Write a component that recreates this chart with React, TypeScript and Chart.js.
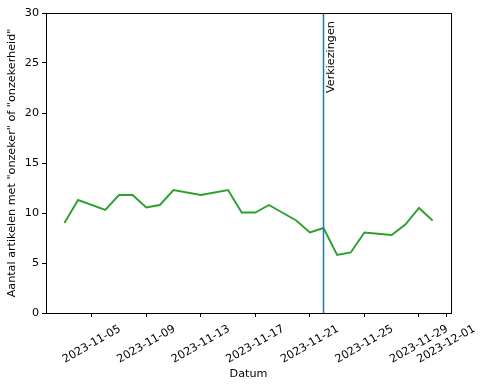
import React, { useEffect, useRef } from 'react';
import { Chart, registerables } from 'chart.js';

Chart.register(...registerables);

// Day of November 2023 for each observation
const days = [3, 4, 6, 7, 8, 9, 10, 11, 13, 15, 16, 17, 18, 20, 21, 22, 23, 24, 25, 27, 28, 29, 30];
// Aantal artikelen met "onzeker" of "onzekerheid"
const counts = [9.0, 11.3, 10.3, 11.8, 11.8, 10.55, 10.8, 12.3, 11.8, 12.3, 10.05, 10.05, 10.8, 9.25, 8.05, 8.5, 5.8, 6.05, 8.05, 7.8, 8.85, 10.5, 9.25];

const tickDays = [5, 9, 13, 17, 21, 25, 29, 31];
const tickLabels = ['2023-11-05', '2023-11-09', '2023-11-13', '2023-11-17', '2023-11-21', '2023-11-25', '2023-11-29', '2023-12-01'];

const electionDay = 22;
const electionLabel = 'Verkiezingen';
const electionLabelY = 22;

const xMin = 1.65;
const xMax = 31.35;
const yMin = 0;
const yMax = 30;
const yStep = 5;

const FONT = '"DejaVu Sans", sans-serif';
const FS = 11.2;

export default function App() {
  const ref = useRef<HTMLCanvasElement | null>(null);

  useEffect(() => {
    document.body.style.margin = '0';
    const canvas = ref.current;
    if (!canvas) return;

    const overlay = {
      id: 'overlay',
      afterDatasetsDraw(chart: any) {
        const { ctx, chartArea, scales } = chart;
        const xs = scales.x;
        const ys = scales.y;
        const px = xs.getPixelForValue(electionDay);
        ctx.save();
        ctx.strokeStyle = '#1f77b4';
        ctx.lineWidth = 1.5;
        ctx.beginPath();
        ctx.moveTo(px, chartArea.top);
        ctx.lineTo(px, chartArea.bottom);
        ctx.stroke();

        ctx.fillStyle = '#000';
        ctx.font = FS + 'px ' + FONT;
        ctx.translate(px + 1.5, ys.getPixelForValue(electionLabelY));
        ctx.rotate(-Math.PI / 2);
        ctx.textAlign = 'left';
        ctx.textBaseline = 'top';
        ctx.fillText(electionLabel, 0, 0);
        ctx.restore();
      },
      afterDraw(chart: any) {
        const { ctx, chartArea, scales } = chart;
        const xs = scales.x;
        ctx.save();
        ctx.strokeStyle = '#000';
        ctx.lineWidth = 1;
        ctx.strokeRect(
          Math.round(chartArea.left) + 0.5,
          Math.round(chartArea.top) + 0.5,
          Math.round(chartArea.right) - Math.round(chartArea.left),
          Math.round(chartArea.bottom) - Math.round(chartArea.top)
        );
        ctx.fillStyle = '#000';
        ctx.font = FS + 'px ' + FONT;
        ctx.textAlign = 'center';
        ctx.textBaseline = 'middle';
        const ang = (30 * Math.PI) / 180;
        tickDays.forEach((d, i) => {
          const label = tickLabels[i];
          const w = ctx.measureText(label).width;
          const h = FS * 1.15;
          const H = w * Math.sin(ang) + h * Math.cos(ang);
          const cx = xs.getPixelForValue(d);
          const cy = chartArea.bottom + 9.5 + H / 2;
          ctx.save();
          ctx.translate(cx, cy);
          ctx.rotate(-ang);
          ctx.fillText(label, 0, 0);
          ctx.restore();
        });
        ctx.restore();
      },
    };

    const chart = new Chart(canvas, {
      type: 'line',
      data: {
        datasets: [
          {
            data: days.map((d, i) => ({ x: d, y: counts[i] })),
            borderColor: '#2ca02c',
            backgroundColor: '#2ca02c',
            borderWidth: 1.9,
            pointRadius: 0,
            tension: 0,
            fill: false,
          },
        ],
      },
      options: {
        animation: false,
        responsive: false,
        maintainAspectRatio: false,
        layout: { padding: { top: 13, right: 34, left: 0, bottom: 0 } },
        plugins: {
          legend: { display: false },
          tooltip: { enabled: false },
        },
        scales: {
          x: {
            type: 'linear',
            min: xMin,
            max: xMax,
            afterBuildTicks: (scale: any) => {
              scale.ticks = tickDays.map((v) => ({ value: v }));
            },
            afterFit: (scale: any) => {
              scale.height = 75;
            },
            border: { display: false },
            grid: {
              display: true,
              drawOnChartArea: false,
              drawTicks: true,
              tickLength: 4,
              color: '#000',
              lineWidth: 1,
            },
            ticks: { display: false },
            title: {
              display: true,
              text: 'Datum',
              color: '#000',
              font: { family: FONT, size: FS },
              padding: { top: 0, bottom: 7 },
            },
          },
          y: {
            type: 'linear',
            min: yMin,
            max: yMax,
            afterFit: (scale: any) => {
              scale.width = 46;
            },
            border: { display: false },
            grid: {
              display: true,
              drawOnChartArea: false,
              drawTicks: true,
              tickLength: 4,
              color: '#000',
              lineWidth: 1,
            },
            ticks: {
              stepSize: yStep,
              color: '#000',
              padding: 3,
              font: { family: FONT, size: FS },
            },
            title: {
              display: true,
              text: 'Aantal artikelen met "onzeker" of "onzekerheid"',
              color: '#000',
              font: { family: FONT, size: FS },
              padding: { top: 5, bottom: 0 },
            },
          },
        },
      },
      plugins: [overlay],
    });

    return () => chart.destroy();
  }, []);

  return (
    <div style={{ width: 485, height: 388 }}>
      <canvas ref={ref} width={485} height={388} style={{ display: 'block', width: 485, height: 388 }} />
    </div>
  );
}
